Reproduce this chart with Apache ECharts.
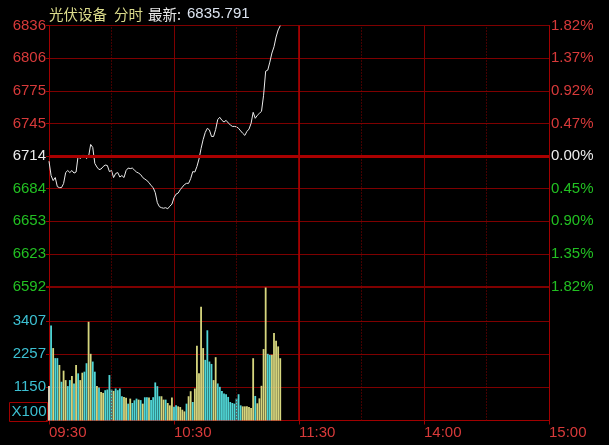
<!DOCTYPE html>
<html><head><meta charset="utf-8">
<script src="https://cdn.jsdelivr.net/npm/echarts@6/dist/echarts.min.js"></script>
<style>html,body{margin:0;padding:0;background:#000;}#c{width:609px;height:445px;}</style>
</head><body><div id="c"></div>
<script>
// ---- data ----
const titleName = '光伏设备';
const titleMode = '分时';
const latestLabel = '最新:';
const latestText = '6835.791';
const prevClose = 6713.8;
const timeLabels = ['09:30', '10:30', '11:30', '14:00', '15:00'];
const priceLabels = ['6592', '6623', '6653', '6684', '6714', '6745', '6775', '6806', '6836']; // bottom -> top
const pctLabels = ['1.82%', '1.35%', '0.90%', '0.45%', '0.00%', '0.47%', '0.92%', '1.37%', '1.82%'];
const volLabels = ['', '1150', '2257', '3407', ''];
const volUnit = 'X100';
const prices = [
  6708.9, 6695.5, 6690.8, 6693.6, 6685.1, 6684.2, 6684.2, 6688.0, 6698.3, 6700.2,
  6698.3, 6700.2, 6697.8, 6698.8, 6714.3, 6711.4, 6714.3, 6714.3, 6711.4, 6713.3,
  6724.6, 6721.8, 6706.8, 6703.5, 6701.1, 6701.6, 6703.9, 6705.3, 6704.9, 6699.2,
  6700.2, 6693.6, 6697.4, 6698.3, 6694.1, 6695.5, 6693.6, 6700.2, 6702.5, 6702.0,
  6702.5, 6700.6, 6698.8, 6697.8, 6696.4, 6693.6, 6692.2, 6690.8, 6688.9, 6686.1,
  6684.2, 6679.5, 6670.1, 6666.3, 6665.4, 6664.9, 6665.4, 6664.4, 6666.8, 6668.7,
  6674.8, 6678.1, 6679.1, 6682.3, 6684.7, 6687.0, 6688.2, 6688.2, 6692.6, 6699.2,
  6698.8, 6703.9, 6711.0, 6720.9, 6729.3, 6735.9, 6739.7, 6738.2, 6732.1, 6732.1,
  6738.7, 6748.1, 6750.0, 6747.2, 6745.6, 6747.2, 6744.8, 6743.0, 6741.5, 6741.5,
  6741.1, 6739.7, 6737.3, 6735.0, 6733.1, 6736.8, 6739.0, 6744.4, 6754.7, 6749.1,
  6751.9, 6753.8, 6755.6, 6770.7, 6793.2, 6794.2, 6801.7, 6810.2, 6816.1, 6825.2,
  6831.8, 6835.8
];
const volumes = [
  1180, 3260, 2485, 2140, 2140, 1906, 1330, 1710, 1386, 1180,
  1386, 1525, 1270, 1906, 1617, 1386, 1640, 1675, 1965, 3386,
  2288, 2022, 1675, 1180, 1132, 982, 947, 1040, 1063, 1560,
  1063, 1016, 1098, 1040, 1098, 832, 808, 780, 578, 751,
  600, 693, 751, 716, 700, 578, 797, 800, 790, 700,
  800, 1306, 1178, 832, 832, 716, 716, 600, 520, 786,
  470, 520, 485, 462, 370, 312, 578, 832, 1005, 635,
  1098, 2565, 1617, 3905, 2485, 2080, 3095, 2022, 1941, 1386,
  2172, 1271, 1155, 1016, 925, 901, 809, 635, 601, 578,
  751, 901, 520, 485, 485, 485, 462, 428, 2137, 842,
  590, 760, 1190, 2450, 4563, 2288, 2253, 2253, 3004, 2738,
  2542, 2137
];
// w = flat, c = sell side, y = buy side
const volSide = [
  'w','c','y','c','c','y','c','y','y','c',
  'c','y','c','y','c','y','y','c','c','y',
  'y','c','c','y','c','y','y','c','c','c',
  'c','y','c','c','c','c','y','y','c','y',
  'c','c','c','y','c','y','c','c','y','c',
  'c','c','c','c','y','y','c','y','y','y',
  'c','c','y','y','y','y','c','y','y','c',
  'y','y','y','y','y','c','c','c','c','y',
  'y','c','c','c','c','c','c','c','c','c',
  'c','c','c','y','y','y','y','y','y','c',
  'y','y','y','y','y','c','c','y','y','y',
  'y','y'
];

// ---- styles ----
const RED = '#d83a3a', GREEN = '#22c022', WHITE = '#ececec', CYAN = '#3cc0d2';
const GRID = '#7e0000', AXIS = '#a00000';
const FONT = '"Liberation Sans", Arial, sans-serif';
const sideColor = { w: '#e6e6cc', c: '#50d6d6', y: '#d6d67e' };

const bp = p => (p / prevClose - 1) * 10000;
const labelRich = {
  r: { color: RED, fontSize: 15, fontFamily: FONT },
  w: { color: WHITE, fontSize: 15, fontFamily: FONT },
  g: { color: GREEN, fontSize: 15, fontFamily: FONT }
};
const tone = i => (i > 4 ? 'r' : i === 4 ? 'w' : 'g');

const chart = echarts.init(document.getElementById('c'), null, { renderer: 'canvas' });
chart.setOption({
  backgroundColor: '#000',
  animation: false,
  grid: [
    { left: 49, right: 60, top: 25.5, height: 261 },
    { left: 49, right: 60, top: 287.5, height: 133 }
  ],
  xAxis: [
    { gridIndex: 0, type: 'value', min: 0, max: 240, interval: 60,
      axisLine: { show: false }, axisTick: { show: false }, axisLabel: { show: false },
      splitLine: { show: true, lineStyle: { color: GRID, width: 1 } } },
    { gridIndex: 1, type: 'value', min: 0, max: 240, interval: 60,
      axisLine: { show: true, lineStyle: { color: AXIS, width: 1 } },
      axisTick: { show: true, length: 4, lineStyle: { color: AXIS } },
      axisLabel: { show: true, align: 'left', margin: 5, color: RED, fontSize: 15, fontFamily: FONT,
        showMaxLabel: true, showMinLabel: true,
        formatter: (v, i) => timeLabels[i] },
      splitLine: { show: true, lineStyle: { color: GRID, width: 1 } } }
  ],
  yAxis: [
    { gridIndex: 0, type: 'value', position: 'left', min: -182, max: 182, interval: 45.5,
      axisLine: { show: true, lineStyle: { color: AXIS, width: 1 } },
      axisTick: { show: true, length: 3, lineStyle: { color: AXIS } },
      axisLabel: { margin: 3, formatter: (v, i) => '{' + tone(i) + '|' + priceLabels[i] + '}', rich: labelRich },
      splitLine: { show: true, lineStyle: { color: GRID, width: 1 } } },
    { gridIndex: 0, type: 'value', position: 'right', min: -182, max: 182, interval: 45.5,
      axisLine: { show: true, lineStyle: { color: AXIS, width: 1 } },
      axisTick: { show: false },
      axisLabel: { margin: 2, formatter: (v, i) => '{' + tone(i) + '|' + pctLabels[i] + '}', rich: labelRich },
      splitLine: { show: false } },
    { gridIndex: 1, type: 'value', position: 'left', min: 0, max: 4563, interval: 1140.75,
      axisLine: { show: true, lineStyle: { color: AXIS, width: 1 } },
      axisTick: { show: true, length: 3, lineStyle: { color: AXIS } },
      axisLabel: { margin: 3, color: CYAN, fontSize: 15, fontFamily: FONT, formatter: (v, i) => volLabels[i] },
      splitLine: { show: true, lineStyle: { color: GRID, width: 1 } } },
    { gridIndex: 1, type: 'value', position: 'right', min: 0, max: 4563, interval: 1140.75,
      axisLine: { show: true, lineStyle: { color: AXIS, width: 1 } },
      axisTick: { show: false }, axisLabel: { show: false }, splitLine: { show: false } }
  ],
  series: [
    { type: 'bar', xAxisIndex: 1, yAxisIndex: 2, barWidth: 1.8, silent: true,
      data: volumes.map((v, i) => ({ value: [i, v], itemStyle: { color: sideColor[volSide[i]] } })),
      markLine: { silent: true, symbol: 'none', label: { show: false },
        lineStyle: { color: '#8a0000', width: 1, type: [1, 2] },
        data: [{ xAxis: 30 }, { xAxis: 90 }, { xAxis: 150 }, { xAxis: 210 },
               { xAxis: 120, lineStyle: { color: '#b40000', width: 1.5, type: 'solid' } }] } },
    { type: 'line', xAxisIndex: 0, yAxisIndex: 0, showSymbol: false, silent: true,
      lineStyle: { color: '#ebebeb', width: 1 },
      data: prices.map((p, i) => [i, bp(p)]),
      markLine: { silent: true, symbol: 'none', label: { show: false },
        lineStyle: { color: '#8a0000', width: 1, type: [1, 2] },
        data: [{ xAxis: 30 }, { xAxis: 90 }, { xAxis: 150 }, { xAxis: 210 },
               { xAxis: 120, lineStyle: { color: '#b40000', width: 1.5, type: 'solid' } },
               { yAxis: 0, lineStyle: { color: '#aa0000', width: 3, type: 'solid' } }] } }
  ],
  graphic: [
    { type: 'text', x: 49, y: 14, style: { text: titleName, fill: '#dcdc8c', font: '14.5px "Noto Sans CJK SC"', verticalAlign: 'middle' } },
    { type: 'text', x: 114, y: 14, style: { text: titleMode, fill: '#dcdc8c', font: '14.5px "Noto Sans CJK SC"', verticalAlign: 'middle' } },
    { type: 'text', x: 148, y: 14, style: { text: latestLabel, fill: '#e6e6e6', font: '14.5px "Noto Sans CJK SC"', verticalAlign: 'middle' } },
    { type: 'text', x: 187, y: 14, style: { text: latestText, fill: '#dce4f0', font: '15px ' + FONT, verticalAlign: 'middle' } },
    { type: 'rect', shape: { x: 9.5, y: 402.5, width: 38, height: 19 }, style: { fill: 'none', stroke: AXIS, lineWidth: 1 } },
    { type: 'text', x: 29, y: 412, style: { text: volUnit, fill: CYAN, font: '15px ' + FONT, align: 'center', verticalAlign: 'middle' } }
  ]
});
</script>
</body></html>
